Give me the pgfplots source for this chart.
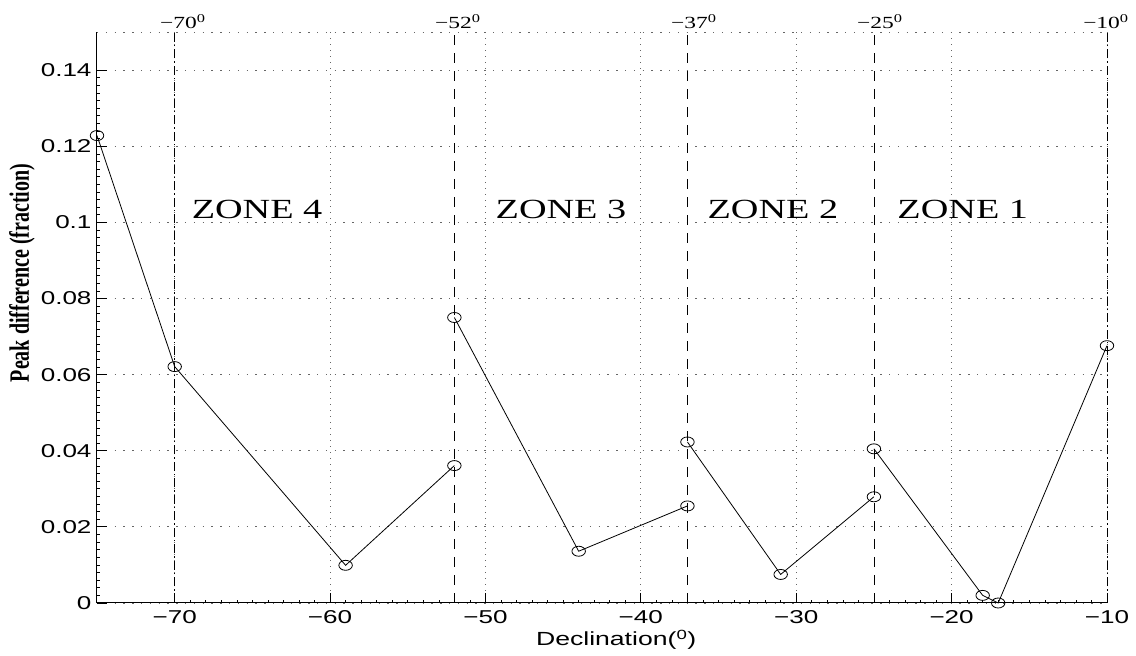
\documentclass[border=0pt]{standalone}
\usepackage{fontspec}
\setmainfont{Liberation Serif}
\setsansfont{Liberation Sans}
\newfontfamily\tsans{Liberation Sans}[FakeStretch=1.4]
\newfontfamily\tserif{Liberation Serif}[FakeStretch=1.38]
\usepackage{graphicx}
\usepackage{pgfplots}
\pgfplotsset{compat=1.18}
\begin{document}
\begin{tikzpicture}
\begin{axis}[
  at={(0,0)}, anchor=south west,
  scale only axis, width=1010pt, height=571pt,
  xmin=-75, xmax=-10, ymin=0, ymax=0.15,
  axis lines*=left,
  axis line style={line width=1pt, black},
  clip=false,
  xtick={-70,-60,-50,-40,-30,-20,-10},
  xticklabels={−70,−60,−50,−40,−30,−20,−10},
  ytick={0,0.02,0.04,0.06,0.08,0.1,0.12,0.14},
  yticklabels={0,0.02,0.04,0.06,0.08,0.1,0.12,0.14},
  minor x tick num=9, minor y tick num=9,
  tick align=inside,
  major tick length=10pt, minor tick length=3.5pt,
  tick style={black, line width=0.8pt},
  minor tick style={black, line width=0.6pt},
  grid=major,
  major x grid style={black!60, line width=0.8pt, dash pattern=on 1pt off 5pt},
  major y grid style={black!60, line width=0.8pt, dash pattern=on 1.4pt off 7.4pt},
  tick label style={font=\tsans\fontsize{18.6}{20}\selectfont},
  xticklabel style={yshift=-4pt},
  yticklabel style={xshift=-2pt},
  xlabel={Declination(\textsuperscript{0})},
  xlabel style={font=\tsans\fontsize{19}{21}\selectfont, at={(rel axis cs:0.514,-0.0648)}, anchor=center},
  ylabel={\scalebox{1}[1.4]{\bfseries Peak difference (fraction)}},
  ylabel style={font=\fontsize{20}{22}\selectfont, at={(rel axis cs:-0.0743,0.578)}, anchor=center, rotate=0},
]
% top dotted border
\draw[black!60, line width=0.8pt, dash pattern=on 1.4pt off 7.4pt] (rel axis cs:0,1) -- (rel axis cs:1,1);

% zone boundaries
\addplot[black, line width=0.8pt, dash pattern=on 9pt off 3pt on 1.5pt off 3pt] coordinates {(-70,0) (-70,0.15)};
\addplot[black, line width=0.8pt, dash pattern=on 10pt off 8pt] coordinates {(-52,0) (-52,0.15)};
\addplot[black, line width=0.8pt, dash pattern=on 10pt off 8pt] coordinates {(-37,0) (-37,0.15)};
\addplot[black, line width=0.8pt, dash pattern=on 10pt off 8pt] coordinates {(-25,0) (-25,0.15)};
\addplot[black, line width=0.8pt, dash pattern=on 9pt off 3pt on 1.5pt off 3pt] coordinates {(-10,0) (-10,0.15)};

% data
\addplot[black, line width=0.8pt, mark=o, mark size=5pt, mark options={xscale=1.35, solid, line width=0.8pt}]
  coordinates {(-75,0.1228) (-70,0.0621) (-59,0.0099) (-52,0.0361)};
\addplot[black, line width=0.8pt, mark=o, mark size=5pt, mark options={xscale=1.35, solid, line width=0.8pt}]
  coordinates {(-52,0.0750) (-44,0.0136) (-37,0.0255)};
\addplot[black, line width=0.8pt, mark=o, mark size=5pt, mark options={xscale=1.35, solid, line width=0.8pt}]
  coordinates {(-37,0.0423) (-31,0.0075) (-25,0.0279)};
\addplot[black, line width=0.8pt, mark=o, mark size=5pt, mark options={xscale=1.35, solid, line width=0.8pt}]
  coordinates {(-25,0.0405) (-18,0.0020) (-17,0.0000) (-10,0.0676)};

% zone labels
\node[font=\tserif\fontsize{27.7}{30}\selectfont, anchor=center] at (axis cs:-64.7,0.1035) {ZONE 4};
\node[font=\tserif\fontsize{27.7}{30}\selectfont, anchor=center] at (axis cs:-45.14,0.1035) {ZONE 3};
\node[font=\tserif\fontsize{27.7}{30}\selectfont, anchor=center] at (axis cs:-31.5,0.1035) {ZONE 2};
\node[font=\tserif\fontsize{27.7}{30}\selectfont, anchor=center] at (axis cs:-19.28,0.1035) {ZONE 1};

% top labels
\node[font=\tserif\fontsize{17}{19}\selectfont, anchor=base west, inner sep=0pt] at (axis cs:-70.95,0.1508) {−70\textsuperscript{0}};
\node[font=\tserif\fontsize{17}{19}\selectfont, anchor=base west, inner sep=0pt] at (axis cs:-53.25,0.1508) {−52\textsuperscript{0}};
\node[font=\tserif\fontsize{17}{19}\selectfont, anchor=base west, inner sep=0pt] at (axis cs:-38.06,0.1508) {−37\textsuperscript{0}};
\node[font=\tserif\fontsize{17}{19}\selectfont, anchor=base west, inner sep=0pt] at (axis cs:-26.09,0.1508) {−25\textsuperscript{0}};
\node[font=\tserif\fontsize{17}{19}\selectfont, anchor=base west, inner sep=0pt] at (axis cs:-11.54,0.1508) {−10\textsuperscript{0}};
\end{axis}
\pgfresetboundingbox
\useasboundingbox (-97pt,-53pt) rectangle (1039pt,603pt);
\end{tikzpicture}
\end{document}
